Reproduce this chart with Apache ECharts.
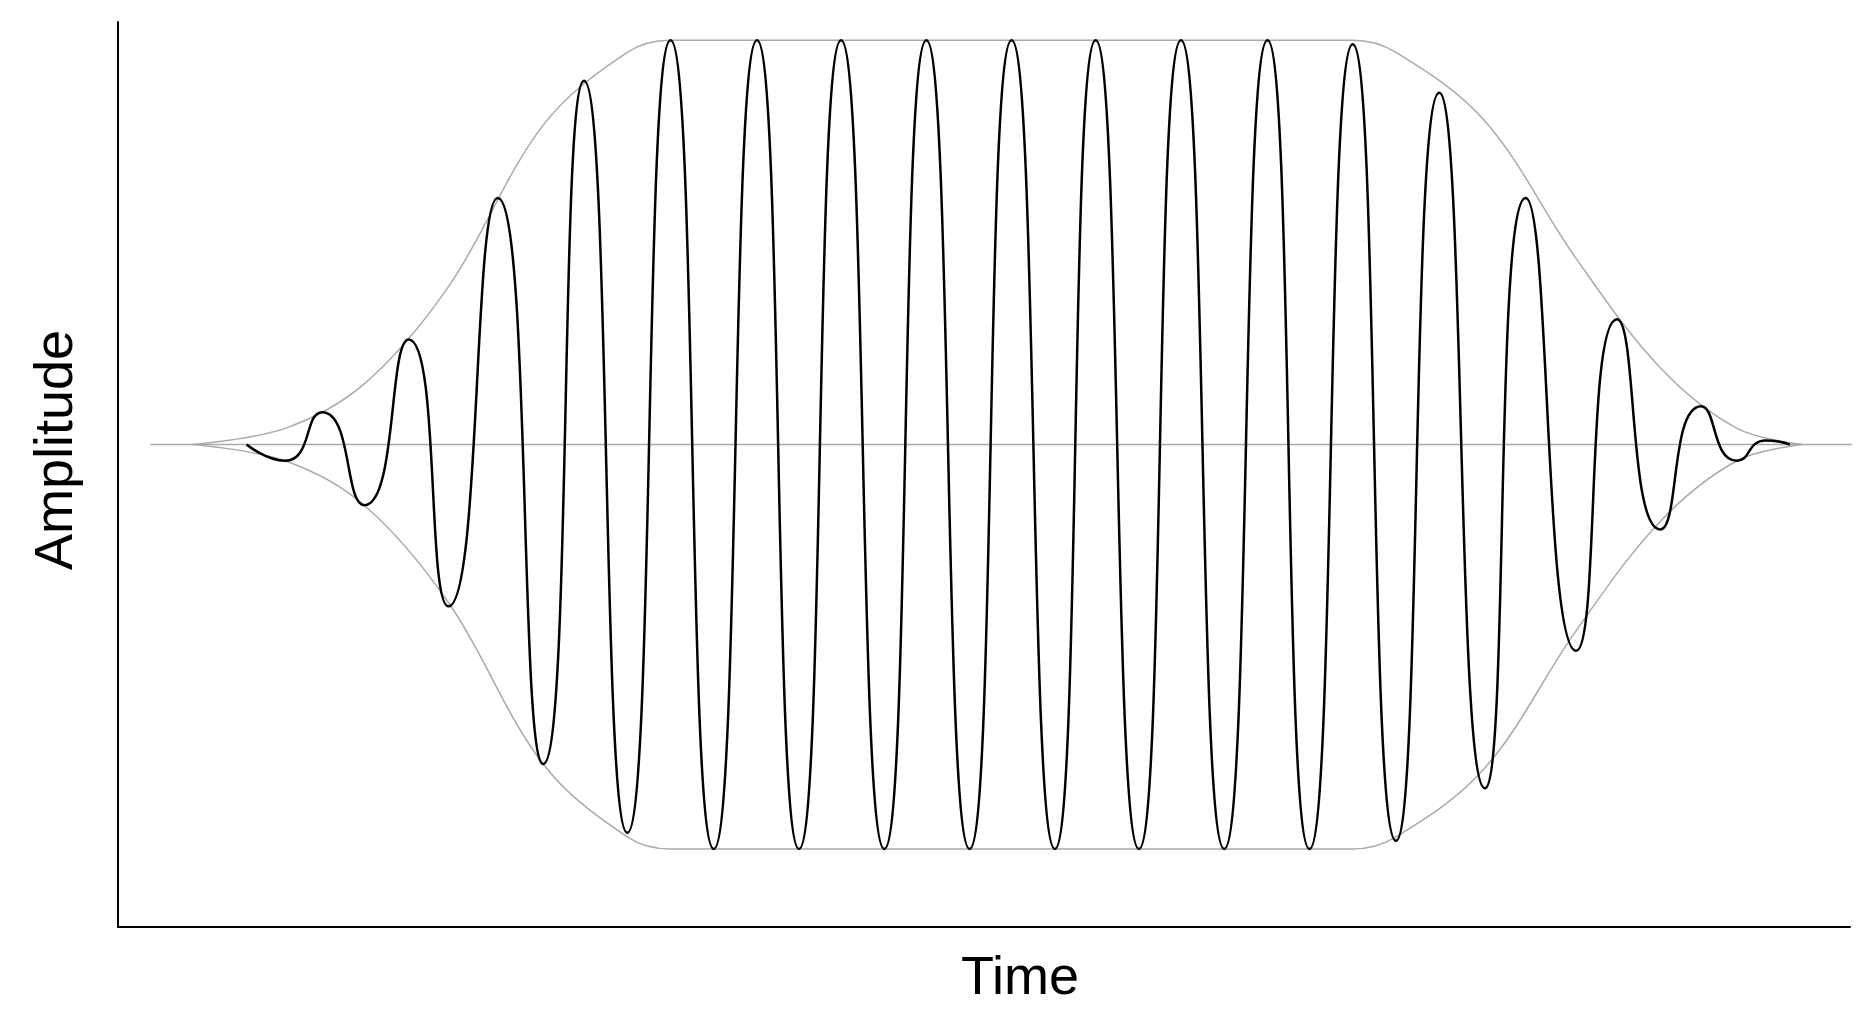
<!DOCTYPE html>
<html>
<head>
<meta charset="utf-8">
<script src="https://cdn.jsdelivr.net/npm/echarts@6/dist/echarts.min.js"></script>
<style>html,body{margin:0;padding:0;background:#fff}#main{width:1874px;height:1024px}</style>
</head>
<body>
<div id="main"></div>
<script>
// wave: extrema (x in picture units, y in envelope units)
var waveX = [205,237,268,303,340,373,414,452,486,522,558,594,630,665,700,736,771,807,842,878,912,948,983,1019,1055,1090,1126,1162,1198,1236,1270,1312,1346,1382,1416,1446,1470,1490];
var waveY = [0,-0.04,0.08,-0.15,0.26,-0.40,0.61,-0.79,0.90,-0.96,1,-1,1,-1,1,-1,1,-1,1,-1,1,-1,1,-1,1,-1,0.99,-0.98,0.87,-0.85,0.61,-0.51,0.31,-0.21,0.095,-0.04,0.01,0];
// envelope
var envX = [160,237,303,373,452,522,558,1126,1162,1236,1312,1382,1446,1500];
var envY = [0,0.04,0.15,0.39,0.79,0.97,1,1,0.97,0.80,0.46,0.19,0.04,0];
var zeroX = [125, 1545];

function pairs(xs, ys, sign) { return xs.map(function (x, i) { return [x, ys[i] * sign]; }); }

var myChart = echarts.init(document.getElementById('main'));
var option = {
  animation: false,
  grid: { left: 118, right: 24, top: 22, bottom: 97 },
  xAxis: {
    type: 'value', min: 98, max: 1540,
    axisLine: { show: true, onZero: false, lineStyle: { color: '#000', width: 2 } },
    axisTick: { show: false }, axisLabel: { show: false }, splitLine: { show: false }
  },
  yAxis: {
    type: 'value', min: -1.193, max: 1.045,
    axisLine: { show: true, onZero: false, lineStyle: { color: '#000', width: 2 } },
    axisTick: { show: false }, axisLabel: { show: false }, splitLine: { show: false }
  },
  graphic: [
    { type: 'text', x: 1020, y: 952, style: { text: 'Time', font: '54px Liberation Sans, Arial', fill: '#000', textAlign: 'center' } },
    { type: 'text', x: 30, y: 450, rotation: Math.PI / 2, style: { text: 'Amplitude', font: '54px Liberation Sans, Arial', fill: '#000', textAlign: 'center', textVerticalAlign: 'top' } }
  ],
  series: [
    { type: 'line', data: zeroX.map(function (x) { return [x, 0]; }), symbol: 'none', lineStyle: { color: '#aaa', width: 1.5 } },
    { type: 'line', data: pairs(envX, envY, 1), smooth: 0.35, symbol: 'none', lineStyle: { color: '#aaa', width: 1.5 } },
    { type: 'line', data: pairs(envX, envY, -1), smooth: 0.35, symbol: 'none', lineStyle: { color: '#aaa', width: 1.5 } },
    { type: 'line', data: pairs(waveX, waveY, 1), smooth: 0.6, symbol: 'none', lineStyle: { color: '#000', width: 2.5 } }
  ]
};
myChart.setOption(option);
window.onresize = myChart.resize;
</script>
</body>
</html>
